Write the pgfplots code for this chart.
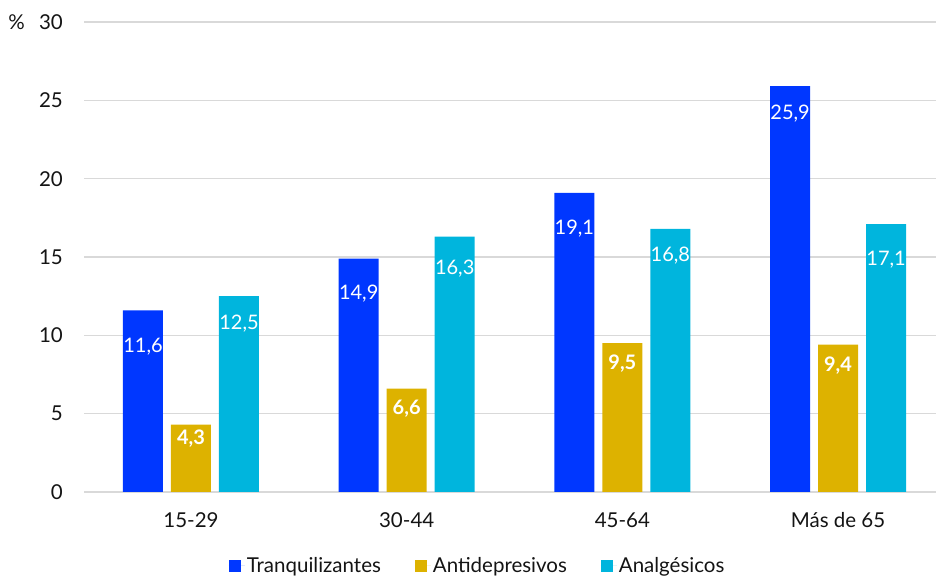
\documentclass[border=0pt]{standalone}
\usepackage{pgfplots}
\pgfplotsset{compat=1.18}
\usepackage{pgfplotstable}
\usepackage{fontspec}
\setmainfont{Lato}
\definecolor{cTr}{RGB}{0,55,255}
\definecolor{cAd}{RGB}{221,178,0}
\definecolor{cAn}{RGB}{0,181,221}
\definecolor{txt}{RGB}{20,20,20}
\pgfplotstableread{
x y off
0 11.6 35
1 14.9 34
2 19.1 35
3 25.9 26
}\tranq
\pgfplotstableread{
x y off
0 4.3 13
1 6.6 19
2 9.5 19
3 9.4 20
}\antid
\pgfplotstableread{
x y off
0 12.5 26
1 16.3 31
2 16.8 26
3 17.1 34
}\analg
\begin{document}
\begin{tikzpicture}[font=\fontsize{20.5}{24}\selectfont]
\path[use as bounding box] (0,0) rectangle (936pt,577pt);
\begin{axis}[
  name=ax,
  at={(84pt,85pt)}, anchor=south west,
  scale only axis, width=852pt, height=470pt,
  xmin=-0.496, xmax=3.454, ymin=0, ymax=30,
  ytick={0,5,...,30},
  xtick={0,1,2,3}, xticklabels={15-29,30-44,45-64,Más de 65},
  axis line style={draw=none},
  tick style={draw=none},
  major tick length=0pt,
  ymajorgrids, major grid style={gray!30, line width=1.3pt},
  ybar=8pt, bar width=40pt,
  /pgf/number format/assume math mode=true,
  tick label style={text=txt, font=\fontsize{20.5}{24}\selectfont},
  yticklabel style={anchor=east, xshift=-21pt, inner sep=0pt},
  xticklabel style={anchor=base, yshift=-36pt, inner sep=0pt},
  legend style={at={(0.462,-0.157)}, anchor=center, draw=none, fill=none,
    legend columns=3, font=\fontsize{20.5}{24}\selectfont, text=txt,
    /tikz/every even column/.append style={column sep=32pt}},
  sq/.style={legend image code/.code={\fill[##1] (0pt,-6pt) rectangle (12pt,6pt); \path (0pt,0pt) -- (16pt,0pt);}},
  lab/.style={visualization depends on={\thisrow{off}\as\off},
    nodes near coords={\pgfmathprintnumber[fixed,fixed zerofill,precision=1,use comma]{\pgfplotspointmeta}},
    every node near coord/.append style={anchor=base, yshift={-(\off+7)*1pt}, text=white, inner sep=0pt, font=\fontsize{20}{24}\selectfont#1}},
]
\addplot[fill=cTr, draw=none, sq, lab] table[x=x,y=y] {\tranq};
\addplot[fill=cAd, draw=none, sq, lab=\bfseries] table[x=x,y=y] {\antid};
\addplot[fill=cAn, draw=none, sq, lab] table[x=x,y=y] {\analg};
\legend{Tranquilizantes,Antidepresivos,Analgésicos}
\end{axis}
\node[anchor=east, inner sep=0pt, text=txt] at ([xshift=-59pt]ax.north west) {\%};
\end{tikzpicture}
\end{document}
